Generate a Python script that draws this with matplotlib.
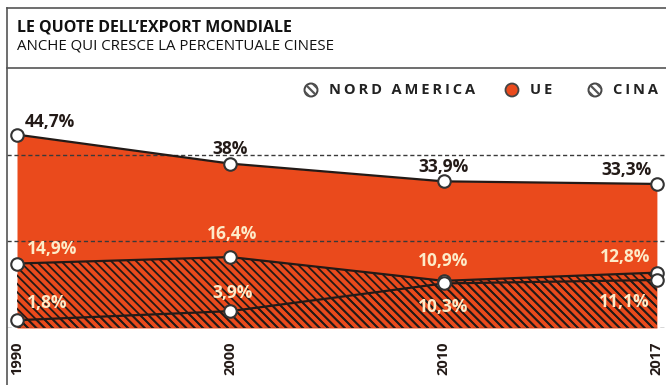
import matplotlib
matplotlib.use('Agg')
import matplotlib.pyplot as plt
from matplotlib.lines import Line2D
from matplotlib.patches import Circle

# --- Data: world export shares (%) ---
years = ['1990', '2000', '2010', '2017']
ue = [44.7, 38.0, 33.9, 33.3]
nord_america = [14.9, 16.4, 10.9, 12.8]
cina = [1.8, 3.9, 10.3, 11.1]

title = "LE QUOTE DELL\u2019EXPORT MONDIALE"
subtitle = "ANCHE QUI CRESCE LA PERCENTUALE CINESE"

ORANGE = '#ea4a1c'
DARK = '#231a17'
CREAM = '#fdebc8'

plt.rcParams['font.family'] = ['Open Sans', 'DejaVu Sans']
plt.rcParams['hatch.linewidth'] = 1.3
plt.rcParams['hatch.color'] = DARK

W, H = 666, 385
fig = plt.figure(figsize=(W / 100, H / 100), dpi=100)

def fx(px):
    return px / W

def fy(py):
    return 1 - py / H

# --- Plot area ---
ax = fig.add_axes([fx(7), fy(328), fx(666 - 7), (328 - 68) / H])
x = list(range(len(years)))
ax.set_xlim(-10 / 213.3, (666 - 17) / 213.3)
ax.set_ylim(0, 60.1)

ax.fill_between(x, 0, ue, color=ORANGE, lw=0, zorder=1)
ax.fill_between(x, 0, nord_america, facecolor='none', edgecolor=DARK,
                hatch='\\\\\\\\', lw=0, zorder=2)
ax.fill_between(x, 0, cina, facecolor='none', edgecolor=DARK,
                hatch='\\\\\\\\', lw=0, zorder=2)

for g in [0, 20, 40]:
    ax.axhline(g, color='#3a3a3a', ls=(0, (3, 2)), lw=1, zorder=3)

for series in [ue, nord_america, cina]:
    ax.plot(x, series, color=DARK, lw=1.6, zorder=4, clip_on=False)
    ax.plot(x, series, 'o', ms=9, mfc='white', mec='#333333', mew=1.5,
            zorder=5, clip_on=False)

def fmt(v):
    return f"{v:g}".replace('.', ',') + '%'

# label offsets in pixels and alignment for each point
ue_off = [(8, 13, 'left'), (0, 15, 'center'), (0, 14, 'center'), (-5, 14, 'right')]
na_off = [(10, 15, 'left'), (2, 23, 'center'), (0, 20, 'center'), (-7, 16, 'right')]
ci_off = [(10, 17, 'left'), (2, 18, 'center'), (0, -24, 'center'), (-7, -22, 'right')]

for vals, offs, col in [(ue, ue_off, DARK), (nord_america, na_off, CREAM),
                        (cina, ci_off, CREAM)]:
    for i, v in enumerate(vals):
        dx, dy, ha = offs[i]
        ax.annotate(fmt(v), (i, v), xytext=(dx, dy), textcoords='offset pixels',
                    ha=ha, va='center', fontsize=12.5, fontweight='bold',
                    color=col, zorder=6)

ax.set_xticks(x)
ax.set_xticklabels(years, rotation=90, fontsize=10.5, fontweight='bold', color=DARK)
ax.tick_params(axis='x', length=0, pad=10)
ax.set_yticks([])
for s in ax.spines.values():
    s.set_visible(False)

# --- Header ---
fig.text(fx(17), fy(27), title, fontsize=11.5, fontweight='bold', color='#111111',
         va='center', ha='left')
fig.text(fx(17), fy(46), subtitle, fontsize=10.8, color='#111111',
         va='center', ha='left')

fig.add_artist(Line2D([fx(7), 1], [fy(8), fy(8)], color='#555555', lw=1.2))
fig.add_artist(Line2D([fx(7), 1], [fy(68), fy(68)], color='#555555', lw=1.2))
fig.add_artist(Line2D([fx(7), fx(7)], [fy(8), 0], color='#555555', lw=1.2))

# --- Legend ---
overlay = fig.add_axes([0, 0, 1, 1], facecolor='none')
overlay.set_xlim(0, W)
overlay.set_ylim(H, 0)
overlay.set_aspect('equal')
overlay.axis('off')

legend_items = [('NORD AMERICA', 311, 'hatch'), ('UE', 512, 'fill'), ('CINA', 595, 'hatch')]
for label, px, kind in legend_items:
    if kind == 'fill':
        overlay.add_patch(Circle((px, 90), 6.5, facecolor=ORANGE, edgecolor='#444444', lw=1.3))
    else:
        circ = Circle((px, 90), 6.5, facecolor='white', edgecolor='#444444', lw=1.4)
        overlay.add_patch(circ)
        # diagonal stripes clipped to the circle
        for k in (-4, 0, 4):
            stripe = Line2D([px - 7 + k, px + 7 + k], [90 - 7 - k, 90 + 7 - k],
                            color='#555555', lw=1.6)
            stripe.set_clip_path(circ)
            overlay.add_line(stripe)
    overlay.text(px + 18, 90, '\u2009'.join(label), fontsize=10.5, fontweight='bold',
                 color='#222222', va='center', ha='left')

plt.savefig('out.png', dpi=100)
